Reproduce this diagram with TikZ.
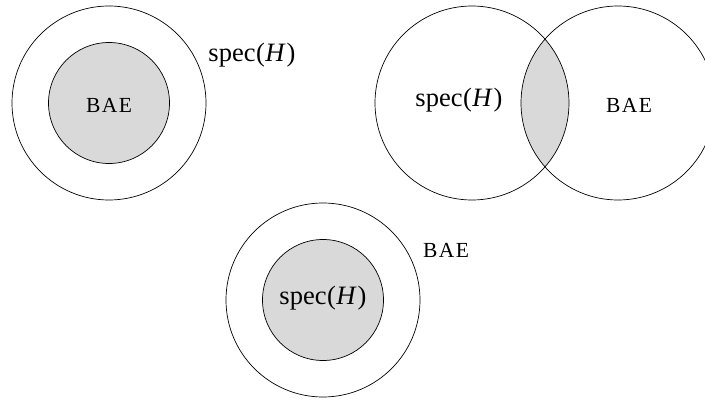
\documentclass[tikz,border=0pt]{standalone}
\usepackage{fontspec}
\setmainfont{Liberation Serif}
\begin{document}
\begin{tikzpicture}[x=1pt,y=-1pt,
  big/.style={circle,draw,line width=0.7pt,minimum size=194pt,inner sep=0pt},
  small/.style={circle,draw,line width=0.7pt,minimum size=121pt,inner sep=0pt,fill=lensgray},
  speclbl/.style={font=\fontsize{26.5}{31}\selectfont,inner sep=0pt},
  baelbl/.style={font=\fontsize{21.5}{26}\selectfont,inner sep=0pt}]
\definecolor{lensgray}{HTML}{D9D9D9}
\useasboundingbox (0,0) rectangle (705,401);
\clip (0,0) rectangle (705,401);
\newcommand{\specH}{spec\kern0.5pt(\kern0.5pt\textit{H}\kern1pt)}
\newcommand{\bae}{B\kern1.5pt A\kern1.5pt E}
% nested circles: BAE inside spec(H)
\node[big] (a1) at (109,103) {};
\node[small] (a2) at (109,103) {};
\node[baelbl] (a3) at (109,105) {\bae};
\node[speclbl] (a4) at (252,55) {\specH};
% overlapping circles
\begin{scope}
  \clip (472,103) circle[radius=97];
  \fill[lensgray] (618,103) circle[radius=97];
\end{scope}
\node[big] (b1) at (472,103) {};
\node[big] (b2) at (618,103) {};
\node[speclbl] (b3) at (459,100) {\specH};
\node[baelbl] (b4) at (629,105) {\bae};
% nested circles: spec(H) inside BAE
\node[big] (c1) at (323,300) {};
\node[small] (c2) at (323,300) {};
\node[speclbl] (c3) at (323,298) {\specH};
\node[baelbl] (c4) at (446,250) {\bae};
\end{tikzpicture}
\end{document}
